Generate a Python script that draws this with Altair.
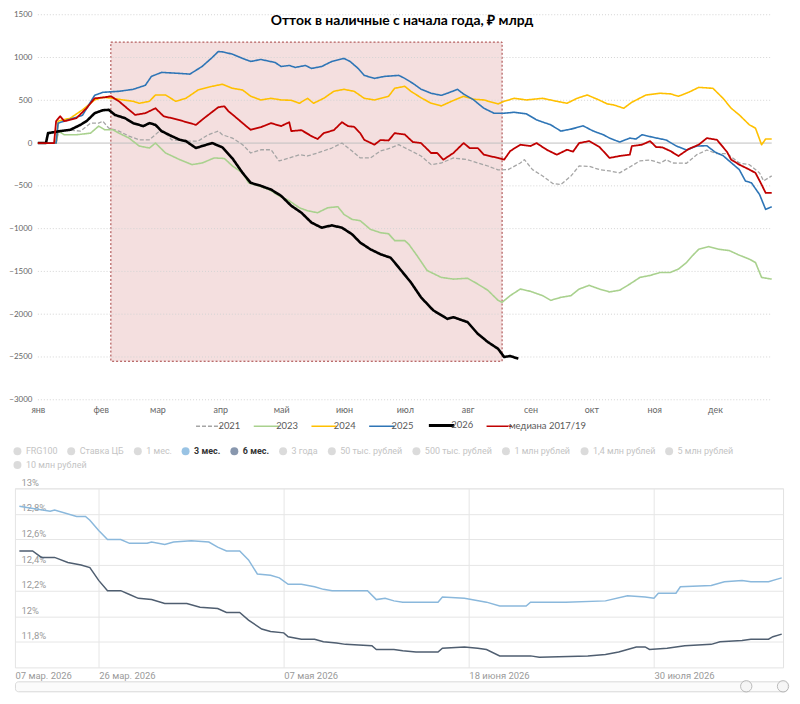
import json
import altair as alt
import pandas as pd

# ---------------- top chart data ----------------
TITLE = "Отток в наличные с начала года, ₽ млрд"
MONTH_DAYS = [0, 31, 59, 90, 120, 151, 181, 212, 243, 273, 304, 334]
MONTH_LABELS = ["янв", "фев", "мар", "апр", "май", "июн", "июл", "авг", "сен", "окт", "ноя", "дек"]
Y_TICKS = [1500, 1000, 500, 0, -500, -1000, -1500, -2000, -2500, -3000]

SERIES = ["2021", "2023", "2024", "2025", "2026", "медиана 2017/19"]
COLORS = ["#a5a5a5", "#a9d18e", "#ffc000", "#2e75b6", "#000000", "#c00000"]
DASHES = [[4, 2], [1, 0], [1, 0], [1, 0], [1, 0], [1, 0]]
WIDTHS = [1.3, 1.6, 1.6, 1.6, 2.6, 1.8]

d2021 = [0, 9, 10, 14, 21, 26, 30, 32, 35, 40, 45, 50, 55, 60, 63, 66, 73, 79, 84, 89, 91, 96, 101, 105, 110, 115, 119, 124, 129, 133, 138, 145, 150, 155, 159, 164, 169, 174, 178, 183, 189, 194, 199, 205, 212, 217, 222, 227, 232, 238, 240, 244, 249, 254, 258, 263, 267, 272, 277, 282, 287, 292, 297, 302, 307, 310, 313, 320, 325, 330, 335, 340, 346, 351, 356, 358, 362]
v2021 = [0, 0, 116, 155, 140, 233, 233, 256, 174, 140, 81, 38, 38, 140, 120, 38, 23, 23, 97, 140, 97, 58, -19, -116, -78, -78, -209, -174, -136, -151, -116, -58, 0, -93, -174, -174, -93, -58, -19, -78, -151, -252, -233, -174, -194, -233, -268, -314, -310, -233, -194, -310, -384, -473, -485, -384, -268, -272, -310, -326, -349, -279, -209, -198, -233, -194, -233, -236, -136, -81, -124, -124, -233, -252, -349, -442, -384]

d2023 = [0, 9, 10, 13, 19, 26, 30, 33, 37, 40, 45, 50, 55, 58, 63, 70, 76, 81, 87, 92, 96, 101, 104, 109, 114, 119, 124, 129, 133, 138, 143, 148, 151, 155, 159, 164, 169, 173, 176, 181, 183, 187, 192, 199, 205, 212, 217, 222, 227, 229, 233, 238, 243, 249, 253, 258, 263, 267, 272, 277, 282, 287, 292, 297, 302, 307, 312, 316, 320, 323, 326, 331, 336, 341, 346, 351, 354, 357, 362]
v2023 = [0, 0, 140, 97, 97, 116, 198, 155, 155, 116, 58, -35, -58, 0, -116, -194, -252, -233, -174, -180, -268, -349, -465, -500, -543, -617, -675, -756, -791, -814, -756, -744, -834, -892, -907, -1008, -1047, -1060, -1140, -1140, -1183, -1314, -1489, -1570, -1590, -1580, -1648, -1721, -1838, -1861, -1783, -1706, -1733, -1783, -1838, -1803, -1783, -1706, -1663, -1706, -1740, -1720, -1648, -1570, -1547, -1512, -1512, -1473, -1396, -1314, -1241, -1210, -1241, -1256, -1310, -1357, -1396, -1570, -1590]

d2024 = [0, 9, 10, 16, 22, 28, 32, 37, 42, 47, 50, 55, 58, 63, 68, 73, 79, 86, 91, 96, 101, 105, 110, 115, 120, 125, 129, 133, 136, 141, 146, 151, 156, 161, 166, 173, 176, 181, 184, 189, 194, 199, 204, 210, 215, 220, 227, 230, 235, 241, 249, 256, 261, 266, 271, 276, 281, 284, 289, 293, 300, 307, 312, 316, 321, 326, 333, 338, 342, 346, 351, 354, 357, 359, 362]
v2024 = [0, 0, 256, 291, 388, 504, 535, 523, 504, 488, 465, 488, 562, 562, 488, 523, 620, 663, 688, 640, 620, 547, 504, 523, 504, 500, 465, 523, 465, 523, 605, 628, 605, 523, 504, 547, 640, 663, 605, 530, 465, 434, 488, 547, 512, 504, 457, 488, 523, 504, 523, 488, 465, 523, 562, 512, 457, 446, 407, 477, 562, 582, 575, 547, 593, 651, 640, 523, 407, 329, 213, 174, -20, 47, 47]

d2025 = [0, 9, 10, 22, 28, 32, 40, 47, 53, 56, 61, 70, 75, 81, 86, 89, 91, 96, 101, 105, 110, 117, 120, 124, 127, 132, 135, 140, 145, 151, 154, 158, 161, 166, 171, 178, 181, 185, 189, 194, 199, 202, 207, 210, 215, 220, 225, 230, 235, 241, 246, 253, 258, 263, 269, 274, 279, 282, 287, 292, 295, 298, 303, 310, 315, 320, 325, 330, 334, 338, 341, 346, 349, 352, 356, 359, 362]
v2025 = [0, 0, 233, 325, 558, 593, 605, 628, 675, 779, 826, 814, 806, 895, 1000, 1070, 1066, 1039, 989, 954, 977, 942, 895, 907, 884, 907, 872, 895, 954, 989, 954, 872, 791, 756, 779, 791, 756, 698, 630, 582, 558, 582, 628, 573, 504, 407, 349, 349, 360, 341, 271, 213, 140, 163, 201, 140, 97, 58, 12, 58, 47, 97, 70, 35, -35, -81, -35, -31, -105, -147, -209, -310, -442, -465, -601, -775, -744]

d2026 = [0, 4, 5, 11, 16, 21, 24, 28, 32, 35, 38, 43, 47, 52, 55, 58, 61, 66, 70, 73, 78, 81, 86, 91, 96, 101, 105, 110, 115, 120, 125, 130, 135, 140, 145, 150, 155, 159, 164, 169, 174, 176, 180, 184, 189, 195, 202, 205, 212, 217, 222, 227, 230, 233, 237]
v2026 = [0, 0, 116, 140, 155, 213, 256, 349, 384, 388, 329, 291, 233, 198, 233, 213, 140, 81, 38, 23, -58, -35, 0, -50, -180, -349, -465, -500, -543, -617, -733, -814, -930, -989, -962, -989, -1066, -1163, -1241, -1299, -1340, -1396, -1512, -1628, -1803, -1954, -2055, -2035, -2093, -2229, -2326, -2404, -2500, -2489, -2520]

dmed = [0, 8, 9, 11, 13, 19, 24, 28, 33, 36, 40, 45, 48, 53, 58, 62, 66, 70, 75, 78, 82, 89, 92, 94, 97, 102, 105, 110, 115, 120, 124, 125, 130, 135, 138, 141, 146, 150, 153, 156, 159, 161, 166, 169, 173, 176, 181, 185, 189, 194, 197, 200, 205, 210, 213, 217, 220, 227, 230, 233, 238, 243, 246, 251, 256, 261, 264, 267, 272, 277, 282, 287, 292, 293, 298, 302, 305, 308, 312, 316, 321, 326, 330, 335, 340, 342, 346, 351, 354, 357, 359, 362]
vmed = [0, 0, 256, 314, 256, 291, 407, 523, 535, 547, 488, 388, 329, 349, 407, 314, 291, 267, 233, 213, 291, 419, 430, 372, 314, 213, 155, 186, 233, 198, 244, 140, 151, 81, 47, 116, 151, 244, 198, 190, 116, 38, -19, 35, 30, 116, 100, 12, 0, -116, -116, -194, -116, 0, -58, -58, -136, -174, -194, -93, -19, -35, 0, -78, -136, -78, -100, 0, 23, -45, -174, -151, -136, -35, -19, 23, -47, -50, -93, -151, -70, -19, 58, 38, -105, -194, -252, -310, -349, -485, -582, -582]

SHADE = {"x": 36, "x2": 229, "y": 1180, "y2": -2550}

# ---------------- bottom chart data ----------------
BOT_TICK_DAYS = [0, 19, 61, 103, 145]
BOT_TICK_LABELS = ["07 мар. 2026", "26 мар. 2026", "07 мая 2026", "18 июня 2026", "30 июля 2026"]
BOT_Y_TICKS = [11.8, 12.0, 12.2, 12.4, 12.6, 12.8, 13.0]

LEGEND_ROW1 = ["FRG100", "Ставка ЦБ", "1 мес.", "3 мес.", "6 мес.", "3 года", "50 тыс. рублей",
               "500 тыс. рублей", "1 млн рублей", "1,4 млн рублей", "5 млн рублей"]
LEGEND_ROW2 = ["10 млн рублей"]
ACTIVE = ["3 мес.", "6 мес."]
LEGEND_COLORS = ["#cccccc"] * 3 + ["#6ea9d8", "#566b8c"] + ["#cccccc"] * 6
LINE_COLORS = ["#8ab8dc", "#4f5e70"]

d3m = [1, 8, 9, 14, 16, 17, 19, 21, 24, 26, 30, 31, 34, 36, 40, 44, 46, 48, 51, 53, 55, 58, 60, 62, 65, 68, 70, 72, 80, 82, 84, 86, 88, 96, 97, 102, 107, 110, 114, 116, 117, 125, 134, 139, 143, 145, 146, 150, 151, 158, 161, 165, 167, 171, 173, 174]
v3m = [12.86, 12.82, 12.83, 12.78, 12.78, 12.75, 12.67, 12.60, 12.60, 12.57, 12.57, 12.58, 12.56, 12.58, 12.59, 12.58, 12.54, 12.51, 12.51, 12.44, 12.33, 12.32, 12.30, 12.25, 12.25, 12.23, 12.21, 12.20, 12.20, 12.13, 12.14, 12.12, 12.11, 12.11, 12.15, 12.14, 12.11, 12.08, 12.08, 12.08, 12.11, 12.11, 12.12, 12.16, 12.15, 12.14, 12.18, 12.18, 12.23, 12.24, 12.27, 12.28, 12.27, 12.27, 12.29, 12.30]

d6m = [1, 4, 6, 9, 12, 15, 17, 19, 21, 24, 26, 28, 31, 34, 39, 42, 46, 48, 51, 53, 56, 58, 61, 62, 65, 68, 70, 73, 75, 81, 82, 86, 88, 91, 96, 97, 102, 105, 107, 110, 117, 119, 130, 134, 137, 141, 143, 144, 148, 152, 158, 160, 165, 167, 171, 172, 174]
v6m = [12.51, 12.51, 12.46, 12.46, 12.42, 12.40, 12.38, 12.28, 12.20, 12.20, 12.17, 12.14, 12.13, 12.10, 12.10, 12.07, 12.06, 12.03, 12.03, 11.97, 11.90, 11.88, 11.87, 11.84, 11.82, 11.82, 11.80, 11.79, 11.78, 11.77, 11.74, 11.74, 11.73, 11.72, 11.72, 11.75, 11.76, 11.75, 11.74, 11.69, 11.69, 11.68, 11.69, 11.70, 11.72, 11.76, 11.76, 11.74, 11.75, 11.77, 11.78, 11.80, 11.81, 11.82, 11.82, 11.84, 11.86]

# ---------------- build tables ----------------
rows = []
for name, days, vals, w in zip(SERIES, [d2021, d2023, d2024, d2025, d2026, dmed],
                               [v2021, v2023, v2024, v2025, v2026, vmed], WIDTHS):
    for i, (d, v) in enumerate(zip(days, vals)):
        rows.append({"series": name, "day": d, "value": v, "w": w, "ord": i})
top_df = pd.DataFrame(rows)

brows = []
for name, days, vals in [("3 мес.", d3m, v3m), ("6 мес.", d6m, v6m)]:
    for d, v in zip(days, vals):
        brows.append({"series": name, "d": d, "v": v})
bot_df = pd.DataFrame(brows)

# ---------------- top chart ----------------
xs = alt.Scale(domain=[-11.3, 361.7], nice=False, zero=False)
ys = alt.Scale(domain=[-3000, 1500], nice=False, zero=False)

month_expr = f"{json.dumps(MONTH_LABELS, ensure_ascii=False)}[indexof({json.dumps(MONTH_DAYS)}, datum.value)]"
x_axis = alt.Axis(values=MONTH_DAYS, labelExpr=month_expr, title=None, domain=False, ticks=False,
                  tickSize=0, grid=False, labelFont="Lato", labelFontSize=9, labelColor="#666666",
                  labelPadding=6)
y_axis = alt.Axis(values=Y_TICKS, format="d", title=None, domain=False, ticks=False, tickSize=0,
                  grid=False, labelAlign="right", labelPadding=-17, labelFont="Lato",
                  labelFontSize=8, labelColor="#666666")

shade = alt.Chart(pd.DataFrame([SHADE])).mark_rect(
    fill="#f2d9d9", fillOpacity=0.85, stroke="#a33b3b", strokeDash=[2, 2], strokeWidth=1
).encode(
    x=alt.X("x:Q", scale=xs, axis=x_axis), x2="x2:Q",
    y=alt.Y("y:Q", scale=ys, axis=y_axis), y2="y2:Q",
)

grid = alt.Chart(pd.DataFrame({"v": [t for t in Y_TICKS if t != 0]})).mark_rule(
    color="#d4d4d4", strokeDash=[1, 2], strokeWidth=1
).encode(
    y=alt.Y("v:Q", scale=ys, axis=y_axis),
    x=alt.datum(0), x2=alt.datum(362),
)

zero = alt.Chart(pd.DataFrame({"v": [0]})).mark_rule(color="#bfbfbf", strokeWidth=1).encode(
    y=alt.Y("v:Q", scale=ys, axis=y_axis),
    x=alt.datum(0), x2=alt.datum(362),
)

top_legend = alt.Legend(
    title=None, orient="none", legendX=190, legendY=408, direction="horizontal",
    symbolType="stroke", symbolSize=650, labelFont="Lato", labelFontSize=9.5,
    labelColor="#595959", columnPadding=9, labelOffset=5,
    symbolStrokeWidth=alt.ExprRef("datum.value == '2026' ? 3 : 1.6"),
)

lines = alt.Chart(top_df).mark_line(strokeJoin="round").encode(
    x=alt.X("day:Q", scale=xs, axis=x_axis),
    y=alt.Y("value:Q", scale=ys, axis=y_axis),
    color=alt.Color("series:N", scale=alt.Scale(domain=SERIES, range=COLORS), legend=top_legend),
    strokeDash=alt.StrokeDash("series:N", scale=alt.Scale(domain=SERIES, range=DASHES), legend=top_legend),
    strokeWidth=alt.StrokeWidth("w:Q", scale=None, legend=None),
    order="ord:Q",
)

title = alt.Chart(pd.DataFrame({"t": [TITLE]})).mark_text(
    font="Lato", fontSize=14, fontWeight="bold", color="#000000", align="center", baseline="middle"
).encode(text="t:N", x=alt.value(389), y=alt.value(6))

top = alt.layer(shade, grid, zero, lines, title).properties(
    width=760, height=387,
    view=alt.ViewBackground(stroke="transparent"),
)

# ---------------- bottom chart ----------------
bxs = alt.Scale(domain=[0, 174.3], nice=False, zero=False)
bys = alt.Scale(domain=[11.6, 13.0], nice=False, zero=False)

bot_x_expr = f"{json.dumps(BOT_TICK_LABELS, ensure_ascii=False)}[indexof({json.dumps(BOT_TICK_DAYS)}, datum.value)]"
bx_axis = alt.Axis(values=BOT_TICK_DAYS, labelExpr=bot_x_expr, title=None, domain=False, ticks=False,
                   tickSize=0, grid=True, gridColor="#e6e6e6", labelAlign="left", labelBaseline="top",
                   labelPadding=3, labelFont="Roboto", labelFontSize=9.5, labelColor="#9a9a9a")
by_axis = alt.Axis(values=BOT_Y_TICKS, labelExpr="replace(toString(round(datum.value*10)/10), '.', ',') + '%'",
                   title=None, domain=False, ticks=False, tickSize=0, grid=True, gridColor="#e6e6e6",
                   labelAlign="left", labelBaseline="bottom", labelPadding=-6, labelOffset=-1,
                   labelFont="Roboto", labelFontSize=9.5, labelColor="#9a9a9a")

blines = alt.Chart(bot_df).mark_line(strokeWidth=1.5).encode(
    x=alt.X("d:Q", scale=bxs, axis=bx_axis),
    y=alt.Y("v:Q", scale=bys, axis=by_axis),
    stroke=alt.Stroke("series:N", scale=alt.Scale(domain=ACTIVE, range=LINE_COLORS), legend=None),
)

active_expr = " || ".join(f"datum.value == '{a}'" for a in ACTIVE)
leg_common = dict(title=None, orient="none", direction="horizontal", symbolType="circle",
                  symbolSize=64, symbolStrokeWidth=0, labelFont="Roboto", labelFontSize=9,
                  labelOffset=4, columnPadding=9)
bot_legend1 = alt.Legend(
    legendX=-2, legendY=-42, columns=len(LEGEND_ROW1),
    labelColor=alt.ExprRef(f"({active_expr}) ? '#333333' : '#c4c4c4'"),
    labelFontWeight=alt.ExprRef(f"({active_expr}) ? 'bold' : 'normal'"),
    **leg_common,
)
bot_legend2 = alt.Legend(legendX=-2, legendY=-28, labelColor="#c4c4c4", **leg_common)

blegend1 = alt.Chart(bot_df).transform_filter("false").mark_point(filled=True).encode(
    x=alt.X("d:Q", scale=bxs, axis=bx_axis),
    y=alt.Y("v:Q", scale=bys, axis=by_axis),
    fill=alt.Fill("series:N", scale=alt.Scale(domain=LEGEND_ROW1, range=LEGEND_COLORS), legend=bot_legend1),
)
blegend2 = alt.Chart(bot_df).transform_filter("false").mark_point(filled=True).encode(
    x=alt.X("d:Q", scale=bxs, axis=bx_axis),
    y=alt.Y("v:Q", scale=bys, axis=by_axis),
    color=alt.Color("series:N", scale=alt.Scale(domain=LEGEND_ROW2, range=["#cccccc"]), legend=bot_legend2),
)

bottom = alt.layer(blines, blegend1, blegend2).properties(
    width=772, height=180,
    view=alt.ViewBackground(stroke="#e3e3e3"),
)

nav = alt.Chart(pd.DataFrame({"k": [0, 1]})).mark_point(
    filled=True, shape="circle", size=130, fill="#f4f4f4", stroke="#a0a0a0", strokeWidth=1
).encode(
    x=alt.X("k:Q", scale=alt.Scale(domain=[0, 1], range=[735, 772]), axis=None),
    y=alt.value(5),
).properties(width=776, height=10,
             view=alt.ViewBackground(stroke="#d9d9d9", fill="#fbfbfb", cornerRadius=3))

indep = dict(color="independent", fill="independent", stroke="independent", strokeDash="independent")
lower = alt.vconcat(bottom, nav, spacing=14, bounds="flush").resolve_scale(**indep).resolve_legend(**indep)

chart = alt.vconcat(top, lower, spacing=89, bounds="flush").resolve_scale(**indep).resolve_legend(
    **indep
).properties(
    padding={"left": 0, "top": 0, "right": 0, "bottom": 0}
).configure(font="Lato")

chart.save("out.html", embed_options={"renderer": "svg", "actions": False})
